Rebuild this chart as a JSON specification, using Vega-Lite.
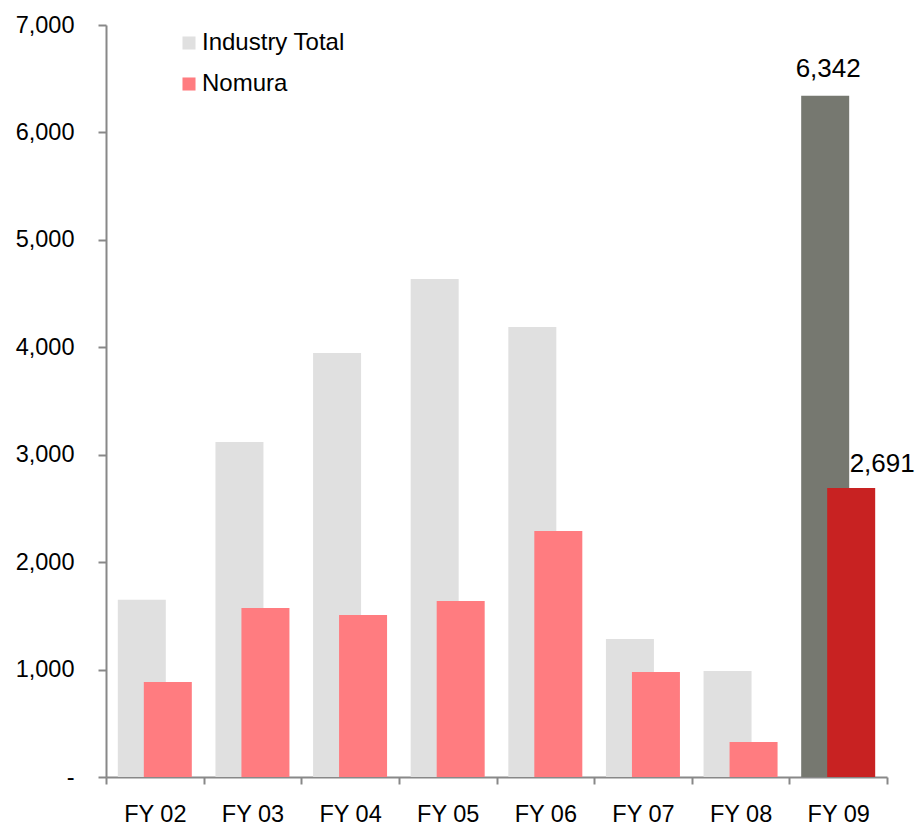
{
  "$schema": "https://vega.github.io/schema/vega-lite/v6.json",
  "autosize": {"type": "none"},
  "width": 781,
  "height": 752,
  "padding": {"left": 106, "top": 25, "right": 30, "bottom": 48},
  "background": "white",
  "config": {
    "font": "Liberation Sans",
    "view": {"stroke": null},
    "axis": {"domainColor": "#888888", "tickColor": "#888888", "domainWidth": 2, "tickWidth": 2, "labelColor": "#000000", "labelFontSize": 23.5, "grid": false, "title": null}
  },
  "data": {
    "values": [
      {"year": "FY 02", "series": "Industry Total", "group": "Industry Total", "value": 1650},
      {"year": "FY 03", "series": "Industry Total", "group": "Industry Total", "value": 3118},
      {"year": "FY 04", "series": "Industry Total", "group": "Industry Total", "value": 3947},
      {"year": "FY 05", "series": "Industry Total", "group": "Industry Total", "value": 4636},
      {"year": "FY 06", "series": "Industry Total", "group": "Industry Total", "value": 4189},
      {"year": "FY 07", "series": "Industry Total", "group": "Industry Total", "value": 1285},
      {"year": "FY 08", "series": "Industry Total", "group": "Industry Total", "value": 987},
      {"year": "FY 09", "series": "Industry Total", "group": "Industry Total FY09", "value": 6342},
      {"year": "FY 02", "series": "Nomura", "group": "Nomura", "value": 884},
      {"year": "FY 03", "series": "Nomura", "group": "Nomura", "value": 1573},
      {"year": "FY 04", "series": "Nomura", "group": "Nomura", "value": 1508},
      {"year": "FY 05", "series": "Nomura", "group": "Nomura", "value": 1638},
      {"year": "FY 06", "series": "Nomura", "group": "Nomura", "value": 2290},
      {"year": "FY 07", "series": "Nomura", "group": "Nomura", "value": 977},
      {"year": "FY 08", "series": "Nomura", "group": "Nomura", "value": 326},
      {"year": "FY 09", "series": "Nomura", "group": "Nomura FY09", "value": 2691}
    ]
  },
  "encoding": {
    "x": {
      "field": "year", "type": "nominal",
      "scale": {"paddingInner": 0, "paddingOuter": 0},
      "axis": {"labelAngle": 0, "tickBand": "extent", "tickSize": 7, "labelPadding": 18}
    },
    "y": {
      "field": "value", "type": "quantitative",
      "scale": {"domain": [0, 7000], "nice": false},
      "axis": {"values": [0, 1000, 2000, 3000, 4000, 5000, 6000, 7000], "tickSize": 8, "labelPadding": 24, "labelExpr": "datum.value == 0 ? '-' : format(datum.value, ',')"}
    },
    "color": {
      "field": "group", "type": "nominal",
      "scale": {"domain": ["Industry Total", "Nomura", "Industry Total FY09", "Nomura FY09"], "range": ["#e0e0e0", "#ff7c80", "#767870", "#c82222"]},
      "legend": {"values": ["Industry Total", "Nomura"], "title": null, "orient": "none", "legendX": 71, "legendY": 6, "symbolType": "square", "symbolSize": 170, "symbolStrokeWidth": 0, "labelFontSize": 24, "labelColor": "#000000", "labelOffset": 1, "rowPadding": 17, "padding": 0}
    }
  },
  "layer": [
    {
      "transform": [{"filter": "datum.series == 'Industry Total'"}],
      "mark": {"type": "bar", "width": 48, "xOffset": -13}
    },
    {
      "transform": [{"filter": "datum.series == 'Nomura'"}],
      "mark": {"type": "bar", "width": 48, "xOffset": 13}
    },
    {
      "transform": [{"filter": "datum.year == 'FY 09' && datum.series == 'Industry Total'"}],
      "mark": {"type": "text", "fontSize": 26, "baseline": "bottom", "dx": -10, "dy": -14, "color": "#000000"},
      "encoding": {"text": {"field": "value", "type": "quantitative", "format": ","}, "color": {"value": "#000000"}}
    },
    {
      "transform": [{"filter": "datum.year == 'FY 09' && datum.series == 'Nomura'"}],
      "mark": {"type": "text", "fontSize": 26, "baseline": "bottom", "dx": 44, "dy": -11, "color": "#000000"},
      "encoding": {"text": {"field": "value", "type": "quantitative", "format": ","}, "color": {"value": "#000000"}}
    }
  ]
}
